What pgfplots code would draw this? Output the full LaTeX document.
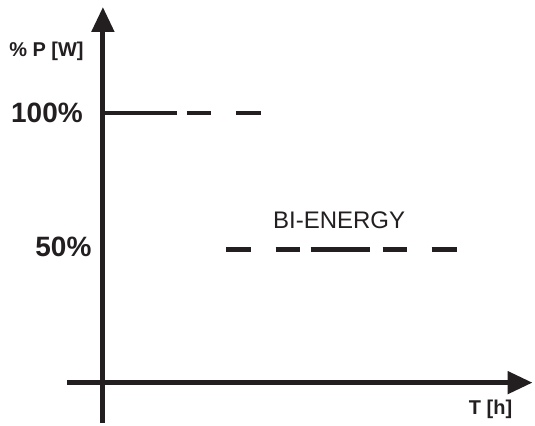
\documentclass[border=0pt]{standalone}
\usepackage{fontspec}
\setmainfont{Liberation Sans}
\usepackage{pgfplots}
\pgfplotsset{compat=1.18}
\usetikzlibrary{arrows.meta}
\definecolor{ink}{HTML}{231F20}
\tikzset{seg/.style={ink, solid, line width=4.6pt, mark=none, line cap=butt}}
\begin{document}
\begin{tikzpicture}
\begin{axis}[
  scale only axis,
  width=466pt, height=416pt,
  xmin=-36, xmax=430, ymin=-40, ymax=376,
  enlargelimits=false,
  axis lines=middle,
  every inner x axis line/.append style={ink, line width=5pt, -{Triangle[length=25pt,width=22pt]}},
  every inner y axis line/.append style={ink, line width=5pt, -{Triangle[length=25pt,width=22pt]}},
  axis line style={ink, line width=5pt},
  xtick=\empty, ytick=\empty,
  clip=false,
]
% 100% level
\addplot[seg] coordinates {(0,270) (74,270)};
\addplot[seg] coordinates {(84,270) (108,270)};
\addplot[seg] coordinates {(133,270) (158,270)};
% 50% level
\addplot[seg] coordinates {(123,133) (148,133)};
\addplot[seg] coordinates {(173,133) (197,133)};
\addplot[seg] coordinates {(208,133) (267,133)};
\addplot[seg] coordinates {(280,133) (304,133)};
\addplot[seg] coordinates {(329,133) (354,133)};
% labels
\node[ink, anchor=base, inner sep=0pt, font=\fontsize{28}{30}\selectfont\bfseries] at (axis cs:-56,260) {100\%};
\node[ink, anchor=base, inner sep=0pt, font=\fontsize{28}{30}\selectfont\bfseries] at (axis cs:-39.5,126) {50\%};
\node[ink, anchor=base, inner sep=0pt, font=\fontsize{24}{26}\selectfont] at (axis cs:236.5,154) {BI-ENERGY};
\node[ink, anchor=base, inner sep=0pt, font=\fontsize{20}{22}\selectfont\bfseries] at (axis cs:388,-32) {T [h]};
\node[ink, anchor=base, inner sep=0pt, font=\fontsize{20}{22}\selectfont\bfseries] at (axis cs:-56.5,326) {\% P [W]};
\path (axis cs:-103,-40) rectangle (axis cs:432,383);
\end{axis}
\end{tikzpicture}
\end{document}
